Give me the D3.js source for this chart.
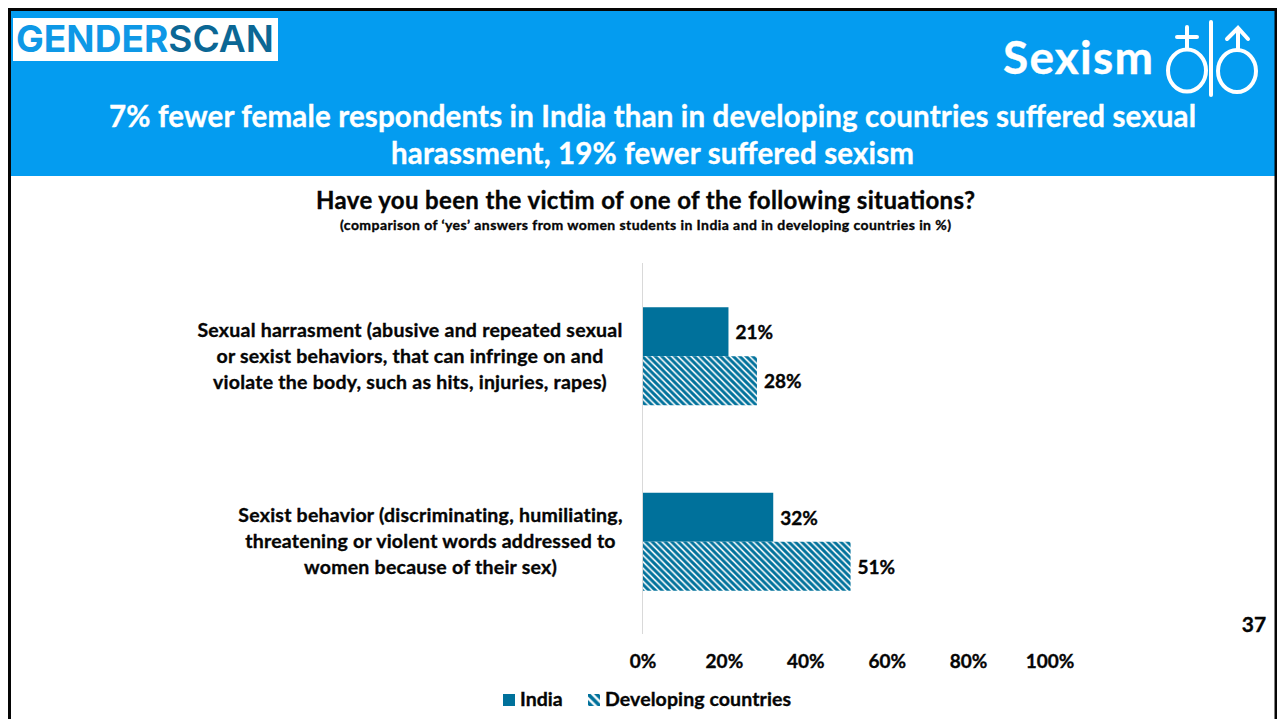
<!DOCTYPE html>
<html>
<head>
<meta charset="utf-8">
<script src="https://cdn.jsdelivr.net/npm/d3@7"></script>
<style>
html,body{margin:0;padding:0;background:#fff;overflow:hidden}
text{font-family:Lato,"Open Sans",sans-serif;font-weight:700;stroke-width:.35;paint-order:stroke}
</style>
</head>
<body>
<svg id="chart" width="1277" height="719"></svg>
<script>
const categories = ["Sexual harrasment", "Sexist behavior"];
const categoryLines = [
  ["Sexual harrasment (abusive and repeated sexual", "or sexist behaviors, that can infringe on and", "violate the body, such as hits, injuries, rapes)"],
  ["Sexist behavior (discriminating, humiliating,", "threatening or violent words addressed to", "women because of their sex)"]
];
const seriesNames = ["India", "Developing countries"];
const india = [21, 32];
const developing = [28, 51];
const ticks = [0, 20, 40, 60, 80, 100];
const titleLines = [
  "7% fewer female respondents in India than in developing countries suffered sexual",
  "harassment, 19% fewer suffered sexism"
];
const chartTitle = "Have you been the victim of one of the following situations?";
const chartSubtitle = "(comparison of ‘yes’ answers from women students in India and in developing countries in %)";

const BLUE = "#049cf0", TEAL = "#00719b", INK = "#050505";
const svg = d3.select("#chart");

// Striped fills for the second series: fine in the bars, coarser in the legend key
const defs = svg.append("defs");
function addStripes(id, size, width, originX, originY) {
  const p = defs.append("pattern").attr("id", id)
    .attr("patternUnits", "userSpaceOnUse").attr("width", size).attr("height", size)
    .attr("patternTransform", `translate(${originX} ${originY})`);
  p.append("rect").attr("width", size).attr("height", size).attr("fill", "#fff");
  p.append("path").attr("d", `M${-size / 2},${-size / 2}L${size * 1.5},${size * 1.5}M${-size / 2},${size / 2}L${size / 2},${size * 1.5}M${size / 2},${-size / 2}L${size * 1.5},${size / 2}`)
    .attr("stroke", TEAL).attr("stroke-width", width).attr("fill", "none");
}
addStripes("stripes", 6.5, 3, 642, 356);
addStripes("stripesKey", 8.5, 3.6, 588, 694);

// Slide frame and banner
svg.append("rect").attr("x", 11).attr("y", 11).attr("width", 1264).attr("height", 165).attr("fill", BLUE);
svg.append("path").attr("d", "M9.5,719V9.5H1276V719").attr("fill", "none").attr("stroke", "#050505").attr("stroke-width", 3);

// Logo
svg.append("rect").attr("x", 13).attr("y", 18).attr("width", 265).attr("height", 43).attr("fill", "#fff");
const logo = svg.append("text").attr("x", 16).attr("y", 52).attr("font-size", 37).attr("textLength", 258).attr("lengthAdjust", "spacingAndGlyphs").style("font-family", "Inter").style("font-weight", 700);
logo.append("tspan").attr("fill", "#0e98e6").text("GENDER");
logo.append("tspan").attr("fill", "#0b6795").style("font-weight", 600).text("SCAN");

// Banner heading and gender symbols
svg.append("text").attr("x", 1003).attr("y", 74).attr("font-size", 46).attr("fill", "#fff").attr("stroke", "#fff").attr("textLength", 150).text("Sexism");
const icon = svg.append("g").attr("fill", "none").attr("stroke", "#fff").attr("stroke-width", 4).attr("stroke-linecap", "round");
icon.append("ellipse").attr("cx", 1187).attr("cy", 70.5).attr("rx", 19).attr("ry", 21);
icon.append("ellipse").attr("cx", 1237).attr("cy", 71).attr("rx", 19).attr("ry", 21);
icon.append("path").attr("d", "M1211,22V95");
icon.append("path").attr("d", "M1187,49V27M1177,37H1197");
icon.append("path").attr("d", "M1238,50V28M1227,39L1238,28L1248,39");

const titleWidths = [1087, 523];
svg.append("g").selectAll("text").data(titleLines).join("text")
  .attr("x", 652.5).attr("y", (d, i) => 126.5 + i * 37)
  .attr("text-anchor", "middle").attr("font-size", 29.5).attr("fill", "#fff").attr("stroke", "#fff")
  .attr("textLength", (d, i) => titleWidths[i]).text(d => d);

svg.append("text").attr("x", 645.5).attr("y", 208.5).attr("text-anchor", "middle").attr("font-size", 24).attr("fill", INK).attr("stroke", INK).attr("textLength", 659).text(chartTitle);
svg.append("text").attr("x", 645.5).attr("y", 230).attr("text-anchor", "middle").attr("font-size", 14).attr("fill", INK).attr("stroke", INK).attr("textLength", 611).text(chartSubtitle);

// Scales
const x = d3.scaleLinear().domain([0, 100]).range([642.5, 1049.5]);
const y = d3.scaleBand().domain(categories).range([263, 634]);
const bandH = 49;

svg.append("line").attr("x1", x(0)).attr("x2", x(0)).attr("y1", 263).attr("y2", 634).attr("stroke", "#d9d9d9").attr("stroke-width", 1);

// Paired bars for each category
const mid = d => y(d.c) + y.bandwidth() / 2 + 0.5;
const rows = categories.map((c, i) => ({ c, i, a: india[i], b: developing[i] }));
const row = svg.append("g").selectAll("g").data(rows).join("g");
row.append("rect").attr("x", x(0) + 0.5).attr("y", d => mid(d) - bandH)
  .attr("width", d => x(d.a) - x(0)).attr("height", bandH).attr("fill", TEAL);
row.append("rect").attr("x", x(0) + 0.5).attr("y", d => mid(d))
  .attr("width", d => x(d.b) - x(0)).attr("height", bandH).attr("fill", "url(#stripes)");
const valueLabel = sel => sel.attr("font-size", 19).attr("fill", INK).attr("stroke", INK);
row.append("text").attr("x", d => x(d.a) + 7.5).attr("y", d => mid(d) - bandH / 2 + 7.5).call(valueLabel).text(d => d.a + "%");
row.append("text").attr("x", d => x(d.b) + 7.5).attr("y", d => mid(d) + bandH / 2 + 7.5).call(valueLabel).text(d => d.b + "%");

// Category labels, centred on a common column per block
const labelX = [410, 430.5];
row.each(function (d) {
  d3.select(this).selectAll("text.cat").data(categoryLines[d.i]).join("text").attr("class", "cat")
    .attr("x", labelX[d.i]).attr("y", (l, j) => mid(d) - 19.5 + j * 26)
    .attr("text-anchor", "middle").attr("font-size", 19.5).attr("letter-spacing", 0.24)
    .attr("fill", INK).attr("stroke", INK).text(l => l);
});

// Value axis labels
const axis = d3.axisBottom(x).tickValues(ticks).tickFormat(d => d + "%").tickSize(0);
const axisG = svg.append("g").attr("transform", "translate(0,649)").call(axis);
axisG.select(".domain").remove();
axisG.selectAll("text").attr("font-size", 19).attr("fill", INK).attr("stroke", INK).attr("dy", 0).attr("y", 19);

// Page number
svg.append("text").attr("x", 1254).attr("y", 632).attr("text-anchor", "middle").attr("font-size", 21).attr("fill", INK).attr("stroke", INK).text("37");

// Legend
svg.append("rect").attr("x", 503).attr("y", 694).attr("width", 12).attr("height", 12).attr("fill", TEAL);
svg.append("text").attr("x", 520).attr("y", 706).attr("font-size", 19.5).attr("fill", INK).attr("stroke", INK).text(seriesNames[0]);
svg.append("rect").attr("x", 588).attr("y", 694).attr("width", 12).attr("height", 12).attr("fill", "url(#stripesKey)");
svg.append("text").attr("x", 605).attr("y", 706).attr("font-size", 19.5).attr("letter-spacing", 0.1).attr("fill", INK).attr("stroke", INK).text(seriesNames[1]);
</script>
</body>
</html>
